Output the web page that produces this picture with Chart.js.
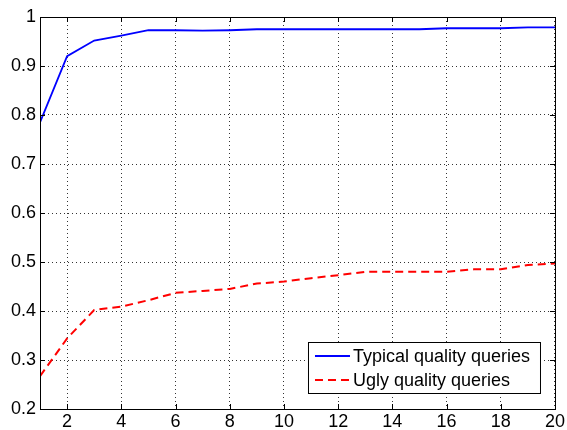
<!DOCTYPE html>
<html>
<head>
<meta charset="utf-8">
<script src="https://cdn.jsdelivr.net/npm/chart.js@4"></script>
<style>
  html, body { margin: 0; padding: 0; background: #fff; }
  #wrap { width: 567px; height: 430px; position: relative; }
</style>
</head>
<body>
<div id="wrap"><canvas id="qualityChart"></canvas></div>
<script>
const steps = [1, 2, 3, 4, 5, 6, 7, 8, 9, 10, 11, 12, 13, 14, 15, 16, 17, 18, 19, 20];

const typicalData = [0.785, 0.92, 0.952, 0.962, 0.973, 0.973, 0.972, 0.973, 0.975, 0.975,
  0.975, 0.975, 0.975, 0.975, 0.975, 0.977, 0.977, 0.977, 0.979, 0.979];
const uglyData = [0.267, 0.344, 0.402, 0.409, 0.422, 0.437, 0.441, 0.445, 0.456, 0.46,
  0.467, 0.473, 0.48, 0.48, 0.48, 0.48, 0.485, 0.485, 0.494, 0.497];

const xTicks = [2, 4, 6, 8, 10, 12, 14, 16, 18, 20];
const yTicks = [0.2, 0.3, 0.4, 0.5, 0.6, 0.7, 0.8, 0.9, 1];

const FONT = '"Liberation Sans", Arial, sans-serif';

// MATLAB style frame, inward ticks and boxed legend inside the axes
const matlabFrame = {
  id: 'matlabFrame',
  afterDatasetsDraw(chart) {
    const { ctx, chartArea: a, scales } = chart;
    ctx.save();
    ctx.strokeStyle = '#000';
    ctx.lineWidth = 1;
    ctx.setLineDash([]);
    ctx.strokeRect(a.left + 0.5, a.top + 0.5, a.right - a.left, a.bottom - a.top);
    const len = 5;
    ctx.beginPath();
    xTicks.forEach((v) => {
      const x = Math.round(scales.x.getPixelForValue(v)) + 0.5;
      ctx.moveTo(x, a.bottom); ctx.lineTo(x, a.bottom - len);
      ctx.moveTo(x, a.top); ctx.lineTo(x, a.top + len);
    });
    yTicks.forEach((v) => {
      const y = Math.round(scales.y.getPixelForValue(v)) + 0.5;
      ctx.moveTo(a.left, y); ctx.lineTo(a.left + len, y);
      ctx.moveTo(a.right, y); ctx.lineTo(a.right - len, y);
    });
    ctx.stroke();

    // legend box
    const boxW = 232, boxH = 51;
    const bx = a.right - 15 - boxW, by = a.bottom - 16 - boxH;
    ctx.fillStyle = '#fff';
    ctx.fillRect(bx, by, boxW, boxH);
    ctx.strokeRect(bx + 0.5, by + 0.5, boxW, boxH);
    ctx.font = '18px ' + FONT;
    ctx.textBaseline = 'middle';
    chart.data.datasets.forEach((ds, i) => {
      const y = by + 14 + i * 24;
      ctx.strokeStyle = ds.borderColor;
      ctx.lineWidth = ds.borderWidth;
      ctx.setLineDash(ds.borderDash || []);
      ctx.beginPath();
      ctx.moveTo(bx + 7, y); ctx.lineTo(bx + 42, y);
      ctx.stroke();
      ctx.setLineDash([]);
      ctx.fillStyle = '#000';
      ctx.fillText(ds.label, bx + 45, y + 1);
    });
    ctx.restore();
  }
};

new Chart(document.getElementById('qualityChart'), {
  type: 'line',
  data: {
    labels: steps,
    datasets: [
      {
        label: 'Typical quality queries',
        data: typicalData,
        borderColor: '#0000ff',
        borderWidth: 1.8,
        pointRadius: 0,
        tension: 0,
        fill: false
      },
      {
        label: 'Ugly quality queries',
        data: uglyData,
        borderColor: '#ff0000',
        borderWidth: 2,
        borderDash: [8, 5],
        pointRadius: 0,
        tension: 0,
        fill: false
      }
    ]
  },
  options: {
    responsive: true,
    maintainAspectRatio: false,
    animation: false,
    layout: { padding: { left: 0, right: 12, top: 17, bottom: 0 } },
    plugins: {
      legend: { display: false },
      tooltip: { enabled: false }
    },
    scales: {
      x: {
        type: 'linear',
        min: 1,
        max: 20,
        afterBuildTicks: (scale) => { scale.ticks = xTicks.map((v) => ({ value: v })); },
        afterFit: (scale) => { scale.height = 21; },
        ticks: {
          color: '#000',
          font: { family: FONT, size: 18 },
          padding: 2,
          maxRotation: 0,
          autoSkip: false
        },
        grid: { color: '#333', lineWidth: 1, drawTicks: false },
        border: { display: false, dash: [1, 3] }
      },
      y: {
        min: 0.2,
        max: 1,
        afterBuildTicks: (scale) => { scale.ticks = yTicks.map((v) => ({ value: v })); },
        afterFit: (scale) => { scale.width = 40; },
        ticks: {
          color: '#000',
          font: { family: FONT, size: 18 },
          padding: 4,
          callback: (v) => (v === 1 ? '1' : v.toFixed(1))
        },
        grid: { color: '#333', lineWidth: 1, drawTicks: false },
        border: { display: false, dash: [1, 3] }
      }
    }
  },
  plugins: [matlabFrame]
});
</script>
</body>
</html>
